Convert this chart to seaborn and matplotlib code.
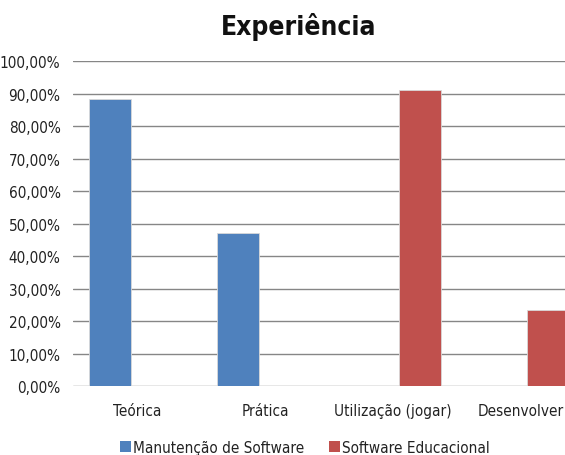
import pandas as pd
import matplotlib
matplotlib.use("Agg")
import matplotlib.pyplot as plt
import seaborn as sns
from matplotlib.ticker import FuncFormatter, MultipleLocator
from matplotlib.patches import Patch

# =====================================
# Data
# =====================================

categories = ["Teórica", "Prática", "Utilização (jogar)", "Desenvolver"]
series = ["Manutenção de Software", "Software Educacional"]
manutencao = [0.883, 0.472, 0.0, 0.0]
educacional = [0.0, 0.0, 0.912, 0.235]
colors = ["#4F81BD", "#C0504D"]

df = pd.DataFrame({
    "Categoria": categories * 2,
    "Serie": [series[0]] * 4 + [series[1]] * 4,
    "Valor": manutencao + educacional,
})

# =====================================
# Style
# =====================================

sns.set_style("white")
plt.rcParams["font.family"] = ["DejaVu Sans"]
plt.rcParams["font.stretch"] = "condensed"

fig = plt.figure(figsize=(5.65, 4.56), dpi=100)
# plot area runs past the right edge, like the cropped original
ax = fig.add_axes([73 / 565, 1 - 387.3 / 456, 512 / 565, 325 / 456])

sns.barplot(
    data=df,
    x="Categoria",
    y="Valor",
    hue="Serie",
    palette=colors,
    saturation=1,
    width=0.83,
    gap=0.21,
    edgecolor="#d9d9d9",
    linewidth=0.6,
    ax=ax,
    legend=False,
    zorder=3,
)

# hide the empty (0%) bars
for p in ax.patches:
    if p.get_height() == 0:
        p.set_visible(False)

ax.set_ylim(0, 1.0)
ax.set_xlim(-0.5, 3.5)
ax.yaxis.set_major_locator(MultipleLocator(0.1))
ax.yaxis.set_major_formatter(
    FuncFormatter(lambda v, _: f"{v * 100:.2f}%".replace(".", ","))
)
ax.grid(axis="y", color="#868686", linewidth=1.0, zorder=0)
ax.set_axisbelow(True)
for s in ax.spines.values():
    s.set_visible(False)

ax.tick_params(axis="y", length=0, pad=9, labelsize=11, labelcolor="#222222")
ax.tick_params(axis="x", length=0, pad=12, labelsize=11, labelcolor="#222222")
ax.set_xlabel("")
ax.set_ylabel("")

fig.text(0.528, 0.94, "Experiência", ha="center", va="center",
         fontsize=19, fontweight="bold", color="#111111")

handles = [Patch(facecolor=c, edgecolor="none") for c in colors]
fig.legend(
    handles, series,
    loc="center", bbox_to_anchor=(0.54, 0.017),
    ncol=2, frameon=False, fontsize=11,
    handlelength=0.7, handleheight=0.7, handletextpad=0.15,
    columnspacing=1.6, labelcolor="#222222",
)

fig.savefig("out.png", dpi=100)
